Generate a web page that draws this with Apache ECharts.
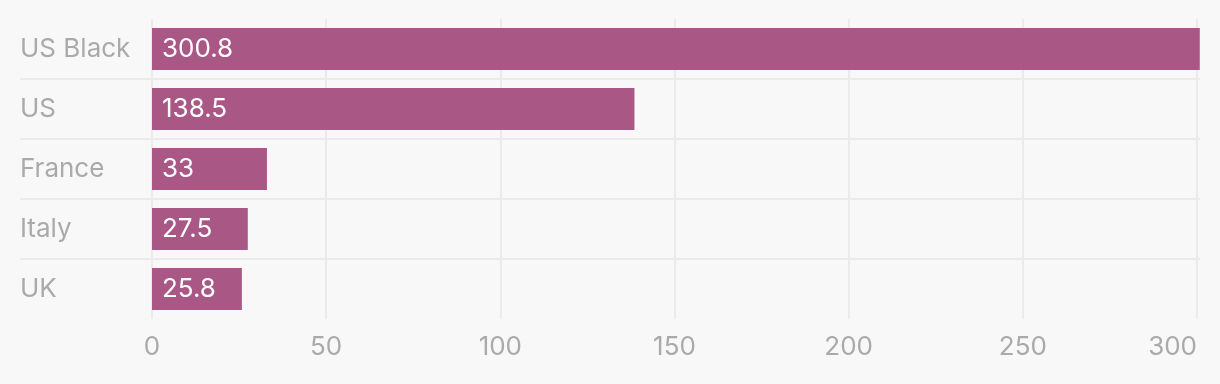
<!DOCTYPE html>
<html>
<head>
<meta charset="utf-8">
<script src="https://cdn.jsdelivr.net/npm/echarts@6/dist/echarts.min.js"></script>
<style>
html,body{margin:0;padding:0;background:#f8f8f8;}
#chart{width:1220px;height:384px;}
</style>
</head>
<body>
<div id="chart"></div>
<script>
const categories = ['US Black', 'US', 'France', 'Italy', 'UK'];
const values = [300.8, 138.5, 33, 27.5, 25.8];
const xTicks = [0, 50, 100, 150, 200, 250, 300];

const FONT = 'Inter';
const FS = 26;
const chart = echarts.init(document.getElementById('chart'), null, {renderer: 'canvas'});
const TOP = 19, ROW = 60, N = categories.length;

chart.setOption({
  backgroundColor: '#f8f8f8',
  animation: false,
  grid: [
    {left: 152, right: 23, top: TOP, height: ROW * N, containLabel: false},
    {left: 20, right: 20, top: TOP + ROW, height: ROW * (N - 2), containLabel: false}
  ],
  xAxis: [
    {
      gridIndex: 0, type: 'value', min: xTicks[0], max: xTicks[xTicks.length - 1], interval: 50,
      axisLine: {show: false}, axisTick: {show: false},
      splitLine: {show: true, lineStyle: {color: '#ebebeb', width: 2}},
      axisLabel: {
        color: '#aaaaaa', fontFamily: FONT, fontSize: FS, margin: 15,
        alignMaxLabel: 'right'
      }
    },
    {gridIndex: 1, type: 'value', show: false}
  ],
  yAxis: [
    {
      gridIndex: 0, type: 'category', data: categories, inverse: true,
      axisLine: {show: false}, axisTick: {show: false}, splitLine: {show: false},
      axisLabel: {
        color: '#aaaaaa', fontFamily: FONT, fontSize: FS, align: 'left', margin: 132,
        padding: [0, 0, 3, 0]
      }
    },
    {
      gridIndex: 1, type: 'value', min: 1, max: N - 1, interval: 1,
      axisLine: {show: false}, axisTick: {show: false}, axisLabel: {show: false},
      splitLine: {show: true, lineStyle: {color: '#ebebeb', width: 2}}
    }
  ],
  series: [
    {
      type: 'bar', xAxisIndex: 0, yAxisIndex: 0, data: values, barWidth: 42,
      clip: false,
      itemStyle: {color: '#a95885'},
      label: {
        show: true, position: 'insideLeft', distance: 10,
        color: '#ffffff', fontFamily: FONT, fontSize: FS,
        formatter: p => String(p.value)
      }
    }
  ]
});
</script>
</body>
</html>
